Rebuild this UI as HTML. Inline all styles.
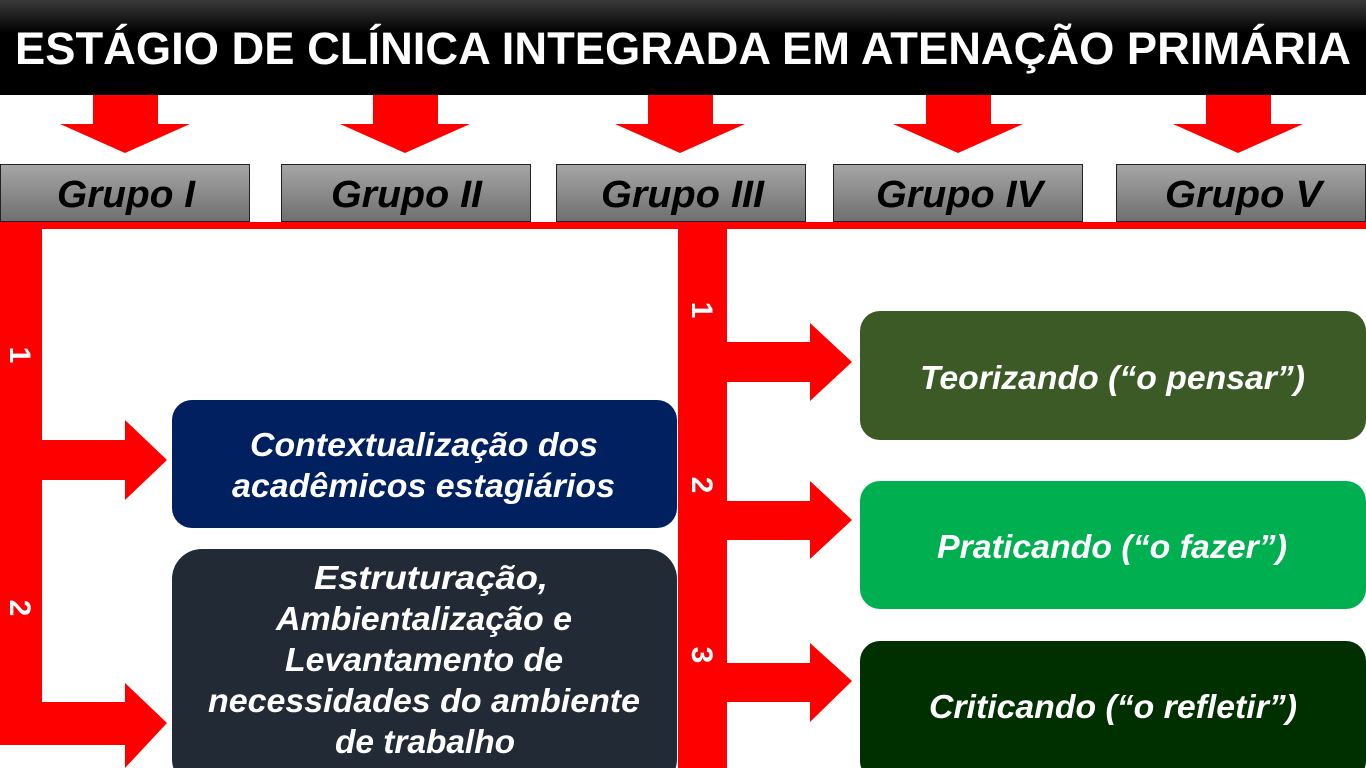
<!DOCTYPE html>
<html><head><meta charset="utf-8"><style>
html,body{margin:0;padding:0;background:#fff;}
svg{display:block;}
text{font-family:"Liberation Sans",Arial,sans-serif;font-weight:bold;}
</style></head><body>
<svg width="1366" height="768" viewBox="0 0 1366 768" xmlns="http://www.w3.org/2000/svg">
<defs>
<linearGradient id="tb" x1="0" y1="0" x2="0" y2="1"><stop offset="0" stop-color="#3a3a3a"/><stop offset="0.35" stop-color="#000"/><stop offset="1" stop-color="#000"/></linearGradient>
<linearGradient id="gb" x1="0" y1="0" x2="0" y2="1"><stop offset="0" stop-color="#a6a6a6"/><stop offset="1" stop-color="#6f6f6f"/></linearGradient>
</defs>
<rect x="0" y="0" width="1366" height="95" fill="url(#tb)"/>
<text x="683" y="64" fill="#fff" font-size="45" text-anchor="middle" textLength="1336" lengthAdjust="spacingAndGlyphs">ESTÁGIO DE CLÍNICA INTEGRADA EM ATENAÇÃO PRIMÁRIA</text>
<g fill="#ff0000">
<polygon points="93,95 158,95 158,124 190,124 125,153 60,124 93,124"/>
<polygon points="373,95 438,95 438,124 470,124 405,153 340,124 373,124"/>
<polygon points="648,95 713,95 713,124 745,124 680,153 615,124 648,124"/>
<polygon points="926,95 991,95 991,124 1023,124 958,153 893,124 926,124"/>
<polygon points="1206,95 1271,95 1271,124 1303,124 1238,153 1173,124 1206,124"/>
</g>
<g stroke="#222" stroke-width="1" fill="url(#gb)">
<rect x="0.5" y="164.5" width="249" height="57"/>
<rect x="281.5" y="164.5" width="249" height="57"/>
<rect x="556.5" y="164.5" width="249" height="57"/>
<rect x="833.5" y="164.5" width="249" height="57"/>
<rect x="1116.5" y="164.5" width="249" height="57"/>
</g>
<g font-size="38" font-style="italic" fill="#000">
<text x="57" y="207" textLength="138" lengthAdjust="spacingAndGlyphs">Grupo I</text>
<text x="331" y="207" textLength="151" lengthAdjust="spacingAndGlyphs">Grupo II</text>
<text x="601" y="207" textLength="163" lengthAdjust="spacingAndGlyphs">Grupo III</text>
<text x="876" y="207" textLength="167" lengthAdjust="spacingAndGlyphs">Grupo IV</text>
<text x="1165" y="207" textLength="157" lengthAdjust="spacingAndGlyphs">Grupo V</text>
</g>
<g fill="#ff0000">
<rect x="0" y="222" width="1366" height="7"/>
<rect x="0" y="222" width="42" height="523"/>
<polygon points="42,440 125,440 125,420 167,460 125,500 125,480 42,480"/>
<polygon points="42,702 125,702 125,683 167,723 125,768 125,745 42,745"/>
<rect x="678" y="222" width="49" height="546"/>
<polygon points="727,342 810,342 810,323 852,362 810,401 810,382 727,382"/>
<polygon points="727,501 810,501 810,481 852,520 810,559 810,540 727,540"/>
<polygon points="727,663 810,663 810,643 852,681 810,722 810,702 727,702"/>
</g>
<g fill="#fff" font-size="30">
<text transform="translate(10,355) rotate(90)" text-anchor="middle">1</text>
<text transform="translate(10,608) rotate(90)" text-anchor="middle">2</text>
<text transform="translate(692,310) rotate(90)" text-anchor="middle">1</text>
<text transform="translate(692,485) rotate(90)" text-anchor="middle">2</text>
<text transform="translate(692,655) rotate(90)" text-anchor="middle">3</text>
</g>
<rect x="172" y="400" width="505" height="128" rx="20" fill="#002060"/>
<rect x="172" y="549" width="505" height="240" rx="30" fill="#222a35"/>
<rect x="860" y="311" width="506" height="129" rx="20" fill="#3b5a26"/>
<rect x="860" y="481" width="506" height="128" rx="20" fill="#00b050"/>
<rect x="860" y="641" width="506" height="140" rx="20" fill="#002f00"/>
<g fill="#fff" font-size="33" font-style="italic">
<text x="250" y="456" textLength="348" lengthAdjust="spacingAndGlyphs">Contextualização dos</text>
<text x="232" y="497" textLength="383" lengthAdjust="spacingAndGlyphs">acadêmicos estagiários</text>
<text x="314" y="589" textLength="234" lengthAdjust="spacingAndGlyphs">Estruturação,</text>
<text x="276" y="630" textLength="296" lengthAdjust="spacingAndGlyphs">Ambientalização e</text>
<text x="285" y="671" textLength="278" lengthAdjust="spacingAndGlyphs">Levantamento de</text>
<text x="208" y="712" textLength="432" lengthAdjust="spacingAndGlyphs">necessidades do ambiente</text>
<text x="335" y="753" textLength="180" lengthAdjust="spacingAndGlyphs">de trabalho</text>
<text x="920" y="389" textLength="385" lengthAdjust="spacingAndGlyphs">Teorizando (“o pensar”)</text>
<text x="937" y="558" textLength="350" lengthAdjust="spacingAndGlyphs">Praticando (“o fazer”)</text>
<text x="929" y="718" textLength="368" lengthAdjust="spacingAndGlyphs">Criticando (“o refletir”)</text>
</g>
</svg>
</body></html>
